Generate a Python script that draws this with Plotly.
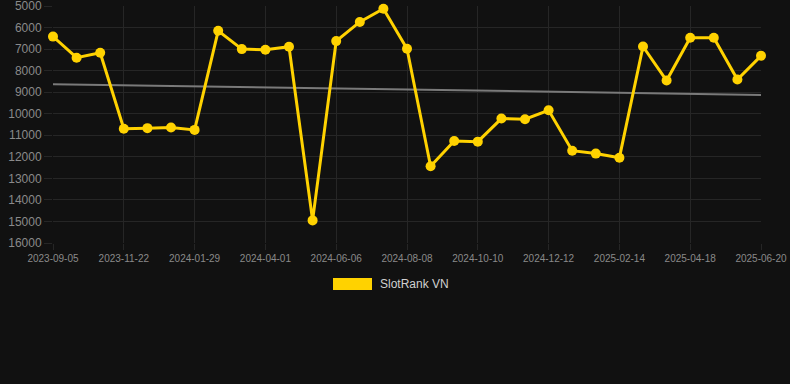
import plotly.graph_objects as go

dates = [
    "2023-09-05", "2023-09-30", "2023-10-26", "2023-11-22", "2023-12-15", "2024-01-06",
    "2024-01-29", "2024-02-20", "2024-03-11", "2024-04-01", "2024-04-23", "2024-05-15",
    "2024-06-06", "2024-06-27", "2024-07-18", "2024-08-08", "2024-08-29", "2024-09-19",
    "2024-10-10", "2024-10-31", "2024-11-21", "2024-12-12", "2025-01-02", "2025-01-23",
    "2025-02-14", "2025-03-07", "2025-03-28", "2025-04-18", "2025-05-09", "2025-05-30",
    "2025-06-20",
]
ranks = [
    6420, 7400, 7170, 10700, 10670, 10640, 10750, 6150, 7000, 7030, 6890, 14950,
    6630, 5740, 5125, 6985, 12440, 11265, 11295, 10225, 10255, 9840, 11715, 11850,
    12040, 6880, 8460, 6470, 6470, 8410, 7310,
]
trend_x = [dates[0], dates[-1]]
trend_y = [8630, 9125]
tick_labels = dates[::3]
series_name = "SlotRank VN"

BG = "#111111"
GRID = "#262626"
GOLD = "#FFD200"

fig = go.Figure()
fig.add_trace(go.Scatter(
    x=trend_x, y=trend_y, mode="lines",
    line=dict(color="#7a7a7a", width=2), showlegend=False, hoverinfo="skip",
))
fig.add_trace(go.Scatter(
    x=dates, y=ranks, mode="lines+markers", name=series_name,
    line=dict(color=GOLD, width=3),
    marker=dict(color=GOLD, size=10),
    showlegend=False, cliponaxis=False,
))

fig.update_layout(
    width=790, height=384,
    paper_bgcolor=BG, plot_bgcolor=BG,
    margin=dict(l=53, r=29, t=6, b=141),
    font=dict(family="Liberation Sans, Arial, sans-serif", color="#8a8a8a"),
    showlegend=False,
)
fig.update_xaxes(
    type="category", categoryorder="array", categoryarray=dates,
    range=[0, len(dates) - 1],
    tickmode="array", tickvals=tick_labels, ticktext=tick_labels,
    showgrid=True, gridcolor=GRID, gridwidth=1,
    ticks="outside", ticklen=6, tickcolor=GRID,
    tickfont=dict(size=10, color="#8a8a8a"),
    zeroline=False, showline=False, automargin=False,
    ticklabeloverflow="allow",
)
fig.update_yaxes(
    range=[16000, 5000], tickmode="linear", tick0=5000, dtick=1000,
    tickformat="d",
    showgrid=True, gridcolor=GRID, gridwidth=1,
    ticks="outside", ticklen=8, tickcolor=GRID,
    tickfont=dict(size=12, color="#8a8a8a"),
    zeroline=False, showline=False, automargin=False,
    ticklabeloverflow="allow",
)

# legend (drawn as a box + label)
fig.add_shape(
    type="rect", xref="paper", yref="paper",
    x0=(333 - 53) / 708, x1=(372 - 53) / 708,
    y0=(243 - 290) / 237, y1=(243 - 278) / 237,
    fillcolor=GOLD, line=dict(width=0),
)
fig.add_annotation(
    xref="paper", yref="paper", x=(378 - 53) / 708, y=(243 - 284) / 237,
    text=series_name, showarrow=False, xanchor="left", yanchor="middle",
    font=dict(size=12, color="#d0d0d0", family="Liberation Sans, Arial, sans-serif"),
)

fig.write_html(
    "out.html",
    config={"displayModeBar": False},
    post_script="document.body.style.margin='0';document.body.style.background='#111111';",
)
